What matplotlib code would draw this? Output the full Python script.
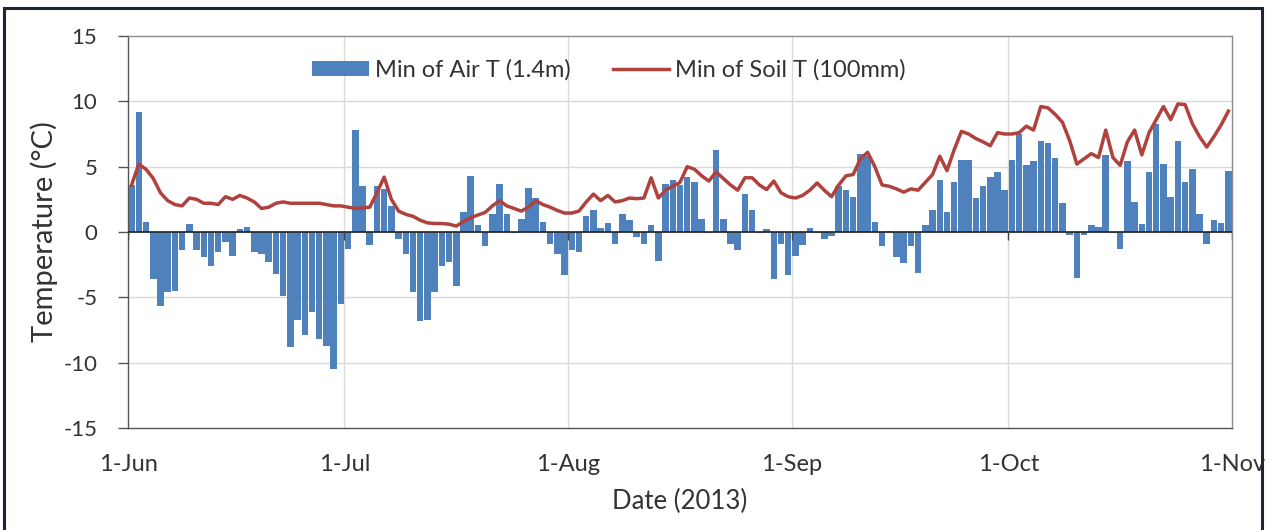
import matplotlib
matplotlib.use("Agg")
import matplotlib.pyplot as plt
import matplotlib.dates as mdates
from matplotlib.patches import Rectangle
import pandas as pd

plt.rcParams['font.family'] = ['Lato', 'DejaVu Sans']
plt.rcParams['axes.unicode_minus'] = False

start_date = '2013-06-01'
n_days = 153
y_ticks = [-15, -10, -5, 0, 5, 10, 15]
series_labels = ['Min of Air T (1.4m)', 'Min of Soil T (100mm)']
x_label = 'Date (2013)'
y_label = 'Temperature (°C)'

air_min = [
    3.6, 9.2, 0.8, -3.6, -5.7, -4.6, -4.5, -1.4, 0.6, -1.4,
    -1.9, -2.6, -1.5, -0.8, -1.8, 0.2, 0.4, -1.5, -1.7, -2.3,
    -3.2, -4.9, -8.8, -6.7, -7.9, -6.1, -8.2, -8.7, -10.5, -5.5,
    -1.3, 7.8, 3.5, -1.0, 3.5, 3.3, 2.0, -0.5, -1.7, -4.6,
    -6.8, -6.7, -4.6, -2.6, -2.3, -4.1, 1.5, 4.3, 0.5, -1.1,
    1.4, 3.7, 1.4, -0.1, 1.0, 3.4, 2.6, 0.8, -0.9, -1.7,
    -3.3, -1.4, -1.5, 1.2, 1.7, 0.3, 0.7, -0.9, 1.4, 0.9,
    -0.4, -0.9, 0.5, -2.2, 3.7, 4.0, 3.6, 4.2, 3.8, 1.0,
    -0.1, 6.3, 1.0, -0.9, -1.4, 2.9, 1.7, -0.1, 0.2, -3.6,
    -0.9, -3.3, -1.8, -1.0, 0.3, -0.1, -0.5, -0.3, 3.5, 3.2,
    2.7, 6.0, 5.8, 0.8, -1.1, 0.1, -1.9, -2.4, -1.1, -3.1,
    0.5, 1.7, 4.0, 1.5, 3.8, 5.5, 5.5, 2.6, 3.5, 4.2,
    4.6, 3.2, 5.5, 7.5, 5.1, 5.4, 7.0, 6.8, 5.7, 2.2,
    -0.2, -3.5, -0.2, 0.5, 0.4, 5.9, -0.1, -1.3, 5.4, 2.3,
    0.6, 4.6, 8.3, 5.2, 2.7, 7.0, 3.8, 4.8, 1.4, -0.9,
    0.9, 0.7, 4.7,
]

soil_min = [
    3.6, 5.2, 4.8, 4.1, 3.0, 2.4, 2.1, 2.0, 2.6, 2.5,
    2.2, 2.2, 2.1, 2.7, 2.5, 2.8, 2.6, 2.3, 1.8, 1.9,
    2.2, 2.3, 2.2, 2.2, 2.2, 2.2, 2.2, 2.1, 2.0, 2.0,
    1.9, 1.8, 1.85, 1.9, 3.0, 4.2, 2.5, 1.6, 1.35, 1.2,
    0.9, 0.7, 0.65, 0.65, 0.6, 0.45, 0.8, 1.1, 1.3, 1.5,
    2.0, 2.4, 2.0, 1.8, 1.6, 1.9, 2.4, 2.1, 1.9, 1.65,
    1.45, 1.45, 1.6, 2.3, 2.9, 2.4, 2.8, 2.3, 2.4, 2.6,
    2.55, 2.6, 4.15, 2.6, 3.2, 3.5, 3.8, 5.0, 4.8, 4.3,
    3.9, 4.6, 4.1, 3.6, 3.2, 4.15, 4.15, 3.6, 3.25, 3.9,
    3.0, 2.7, 2.6, 2.8, 3.2, 3.75, 3.2, 2.7, 3.6, 4.3,
    4.4, 5.6, 6.1, 5.0, 3.6, 3.5, 3.3, 3.05, 3.3, 3.2,
    3.8, 4.4, 5.8, 4.7, 6.3, 7.7, 7.5, 7.15, 6.9, 6.6,
    7.6, 7.5, 7.5, 7.6, 8.1, 7.8, 9.6, 9.5, 9.0, 8.4,
    7.0, 5.2, 5.6, 6.0, 5.7, 7.8, 5.7, 5.1, 6.9, 7.8,
    5.9, 7.6, 8.6, 9.6, 8.6, 9.8, 9.75, 8.3, 7.3, 6.5,
    7.3, 8.2, 9.25,
]

dates = pd.date_range(start_date, periods=n_days, freq='D')
centers = dates + pd.Timedelta(hours=12)
x_start = dates[0]
x_end = dates[-1] + pd.Timedelta(days=1)
month_starts = pd.date_range(x_start, x_end, freq='MS')

fig = plt.figure(figsize=(12.75, 5.3), dpi=100)
fig.patch.set_facecolor('white')
ax = fig.add_axes([128/1275, 1 - 428/530, (1232-128)/1275, (428-36)/530])

grid_c = '#D9D9D9'
for yv in y_ticks[1:-1]:
    ax.axhline(yv, color=grid_c, lw=1.0, zorder=0)
for m in month_starts[1:-1]:
    ax.axvline(m, color=grid_c, lw=1.0, zorder=0)

bars = ax.bar(centers, air_min, width=0.9, color='#4F81BD', edgecolor='none',
              zorder=2)
line, = ax.plot(centers, soil_min, color='#B0413D', lw=2.5, zorder=3,
                solid_joinstyle='round')

ax.axhline(0, color='#222222', lw=1.2, zorder=4)
ax.vlines(month_starts, -0.6, 0, color='#444444', lw=1.0, zorder=4)

ax.set_xlim(x_start, x_end)
ax.set_ylim(y_ticks[0], y_ticks[-1])
ax.set_yticks(y_ticks)
ax.set_xticks(month_starts)
ax.xaxis.set_major_formatter(mdates.DateFormatter('%-d-%b'))

for s in ax.spines.values():
    s.set_color('#8C8C8C')
    s.set_linewidth(1.0)
ax.spines['left'].set_color('#555555')
ax.spines['bottom'].set_color('#555555')

ax.tick_params(axis='y', length=7, width=1, color='#555555', labelsize=16,
               labelcolor='#333333', pad=15)
ax.tick_params(axis='x', length=0, labelsize=17, labelcolor='#333333', pad=19)

ax.set_xlabel(x_label, fontsize=18.5, color='#333333', labelpad=10)
ax.set_ylabel(y_label, fontsize=21, color='#333333', labelpad=4)

leg = fig.legend([bars, line], series_labels, loc='center',
                 bbox_to_anchor=(609/1275, 1 - 70/530),
                 ncol=2, frameon=False, fontsize=17, handlelength=2.4,
                 handleheight=0.6, handletextpad=0.25, columnspacing=1.8)
for t in leg.get_texts():
    t.set_color('#333333')

fig.patches.append(Rectangle((4/1275, -0.02), (1262-4)/1275, 1.02 - 8/530,
                             transform=fig.transFigure, fill=False,
                             edgecolor='#1F2533', lw=2.2, zorder=10))

fig.savefig('out.png', dpi=100, facecolor='white')
